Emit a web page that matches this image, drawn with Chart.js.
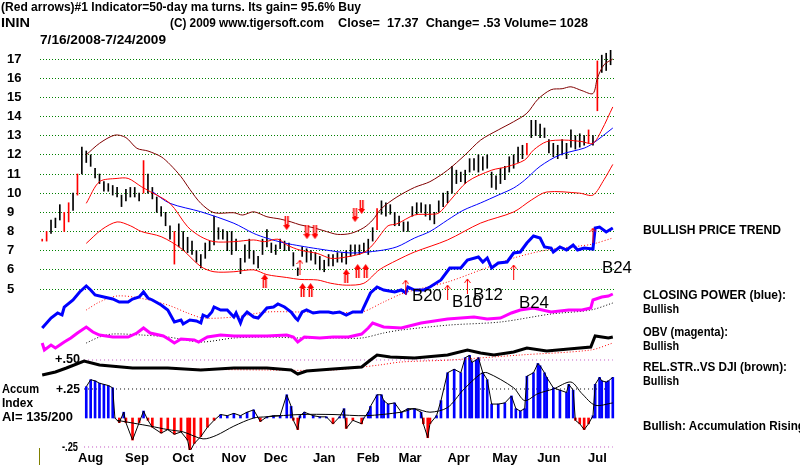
<!DOCTYPE html>
<html><head><meta charset="utf-8">
<script src="https://cdn.jsdelivr.net/npm/chart.js@4/dist/chart.umd.min.js"></script>
<style>
html,body{margin:0;padding:0;background:#fff;}
#wrap{position:relative;width:800px;height:468px;overflow:hidden;background:#fff;}
#c{position:absolute;left:0;top:0;}
.t{position:absolute;white-space:pre;font-family:"Liberation Sans",Arial,sans-serif;font-weight:bold;font-size:12px;line-height:14px;color:#000;transform-origin:0 50%;}
.b{font-weight:normal;font-size:17px;line-height:18px;}
#tick{position:absolute;left:39px;top:448px;width:1px;height:17px;background:#808000;}
</style></head><body>
<div id="wrap">
<canvas id="c" width="800" height="468"></canvas>
<div class="t" style="left:1px;top:0px" data-w="360">(Red arrows)#1 Indicator=50-day ma turns. Its gain= 95.6% Buy</div>
<div class="t" style="left:1px;top:16px" data-w="29">ININ</div>
<div class="t" style="left:170px;top:16px" data-w="154">(C) 2009 www.tigersoft.com</div>
<div class="t" style="left:338px;top:16px" data-w="250">Close=  17.37  Change= .53 Volume= 1028</div>
<div class="t" style="left:40px;top:33px" data-w="126">7/16/2008-7/24/2009</div>
<div class="t" style="left:643px;top:223px" data-w="138">BULLISH PRICE TREND</div>
<div class="t" style="left:643px;top:288px" data-w="143">CLOSING POWER (blue):</div>
<div class="t" style="left:643px;top:302px" data-w="36">Bullish</div>
<div class="t" style="left:643px;top:325px" data-w="85">OBV (magenta):</div>
<div class="t" style="left:643px;top:339px" data-w="36">Bullish</div>
<div class="t" style="left:643px;top:360px" data-w="144">REL.STR..VS DJI (brown):</div>
<div class="t" style="left:643px;top:374px" data-w="36">Bullish</div>
<div class="t" style="left:643px;top:419px" data-w="162">Bullish: Accumulation Rising</div>
<div class="t" style="left:55px;top:352px" data-w="25">+.50</div>
<div class="t" style="left:2px;top:382px" data-w="37">Accum</div>
<div class="t" style="left:56px;top:382px" data-w="24">+.25</div>
<div class="t" style="left:2px;top:396px" data-w="31">Index</div>
<div class="t" style="left:2px;top:410px" data-w="71">AI= 135/200</div>
<div class="t" style="left:62px;top:440px" data-w="16">-.25</div>
<div class="t b" style="left:412px;top:287px" data-w="30">B20</div>
<div class="t b" style="left:452px;top:293px" data-w="30">B10</div>
<div class="t b" style="left:473px;top:286px" data-w="30">B12</div>
<div class="t b" style="left:519px;top:294px" data-w="30">B24</div>
<div class="t b" style="left:602px;top:259px" data-w="30">B24</div>
<div id="tick"></div>
</div>
<script>
// ---------- axis / tick data ----------
const months = ['Aug','Sep','Oct','Nov','Dec','Jan','Feb','Mar','Apr','May','Jun','Jul'];
const monthStartDays = [12,33,54,77,96,118,138,157,179,200,220,242];
const priceTicks = [5,6,7,8,9,10,11,12,13,14,15,16,17];

// ---------- price bars (every 2nd trading day from 7/16/2008) ----------
const barStepDays = 2;
const priceLow = [7.5,7.5,7.9,8.2,8.6,8.0,8.5,9.1,9.9,11.0,11.6,11.4,10.8,10.5,10.1,10.1,9.9,9.8,9.3,9.6,
  9.8,9.8,9.6,10.0,10.0,9.7,9.0,8.8,8.3,7.6,6.3,7.2,7.0,6.9,6.8,6.4,6.1,6.6,7.0,7.3,
  7.6,7.6,7.0,6.8,7.0,5.8,6.4,6.6,6.3,6.1,6.8,7.2,6.9,6.8,7.1,7.0,7.0,6.2,5.7,6.7,
  6.4,6.5,6.3,6.0,5.9,6.2,6.2,6.4,6.4,6.3,6.7,6.8,6.8,6.9,6.8,7.5,8.1,8.9,8.8,8.9,
  8.3,8.3,8.0,8.0,8.8,8.9,9.0,8.8,8.6,8.4,9.0,9.3,9.5,10.0,10.5,10.6,10.5,11.1,11.2,11.1,
  11.2,11.3,10.3,10.2,10.5,10.7,11.1,11.3,11.6,11.8,12.0,12.9,13.0,12.9,12.9,12.1,11.9,11.8,12.0,11.8,
  12.4,12.3,12.4,12.5,12.6,12.5,14.3,16.3,16.4,16.7];
const priceHigh = [7.6,8.0,8.6,8.7,9.4,9.0,9.5,10.0,11.0,12.4,12.2,12.0,11.3,11.0,10.6,10.5,10.4,10.3,9.9,10.2,
  10.3,10.3,10.0,11.7,11.0,10.3,9.8,9.3,9.0,8.3,8.0,8.4,8.0,7.7,7.5,7.0,6.8,7.4,7.5,8.8,
  8.2,8.1,8.0,8.0,7.6,6.6,7.3,7.6,7.0,6.7,7.6,8.1,7.4,7.3,7.6,7.5,7.4,6.9,6.1,7.2,
  7.1,7.0,6.9,6.7,6.5,6.8,6.8,6.9,6.9,7.0,7.3,7.3,7.3,7.4,7.6,8.2,9.2,9.6,9.5,9.4,
  9.0,8.8,8.5,8.5,9.3,9.5,9.5,9.4,9.4,9.0,9.6,10.0,10.1,11.4,11.2,11.1,11.2,11.8,11.8,12.0,
  11.9,12.0,11.1,10.9,11.3,11.4,11.9,12.0,12.4,12.5,12.6,13.8,13.8,13.6,13.4,12.8,12.6,12.5,12.8,12.6,
  13.3,13.0,13.1,13.0,13.3,13.0,16.9,17.2,17.3,17.5];
const redBarDays = [0,2,10,12,16,46,60,152,220,248,252];

// ---------- price bands / moving averages ----------
const upperBandDays = [20,26,33,38,43,48,54,58,63,67,72,78,87,91,96,102,108,113,117,123,129,134,140,146,150,154,161,169,176,184,192,199,207,214,220,225,231,236,240,245,250,252,255,259];
const upperBand = [12.0,12.6,13.03,12.9,12.34,12.2,11.9,11.5,10.86,10.2,9.47,8.98,8.98,8.86,9.03,8.77,8.65,8.5,8.35,8.2,8.0,7.85,7.9,8.2,8.6,9.2,9.8,10.3,10.6,11.2,12.0,12.77,13.3,13.73,14.17,14.9,15.4,15.45,15.55,15.35,15.2,16.0,16.7,17.0];
const ma21Days = [20,26,34,39,45,49,58,66,72,78,87,96,101,107,111,117,125,131,138,146,150,154,157,161,169,176,180,185,193,204,211,219,223,229,237,245,250,254,259];
const ma21 = [9.47,10.6,10.77,10.77,10.34,10.08,9.47,8.25,7.73,7.47,7.47,7.56,7.47,7.6,7.3,7.03,6.85,6.6,6.67,6.9,7.3,7.9,8.3,8.4,8.86,8.9,8.96,9.6,10.6,11.2,11.38,11.73,12.25,12.69,12.77,12.69,12.6,13.3,14.5];
const ma50Days = [50,58,72,87,96,102,110,117,125,140,153,161,169,176,184,191,199,207,214,219,226,235,246,250,259];
const ma50 = [10.08,9.47,9.03,8.43,7.9,7.65,7.4,7.25,7.1,6.88,7.0,7.2,7.66,8.0,8.6,9.1,9.49,9.9,10.27,10.68,11.4,12.0,12.35,12.6,13.4];
const lowerBandDays = [20,27,34,40,45,54,63,72,78,87,96,102,111,117,125,131,138,146,153,161,169,184,199,214,222,229,244,250,255,259];
const lowerBand = [7.38,8.1,8.5,8.3,8.0,7.73,7.12,6.17,5.9,5.9,6.0,5.75,5.6,5.5,5.47,5.3,5.2,5.3,6.0,6.5,6.93,7.56,8.44,9.02,9.64,10.06,10.0,9.9,10.7,11.5];

// ---------- Closing Power ----------
const cpDays = [0,4,7,9,10,14,17,20,22,24,28,32,35,39,41,44,46,48,50,54,57,60,63,64,67,70,72,73,75,77,78,81,84,87,88,90,91,93,96,98,100,102,105,107,110,113,115,116,118,120,123,126,130,132,135,138,141,145,146,149,152,155,160,163,165,166,169,173,176,181,185,190,193,198,200,202,204,207,211,214,217,220,223,226,228,231,232,235,238,241,243,246,250,251,253,256,259];
const cp = [2,12,17,15,23,30,38,44,40,35,33,31,28,28,31,33,38,32,30,25,20,8,10,6,10,9,7,15,13,18,23,20,20,13,17,7,13,18,13,12,17,22,23,26,23,18,12,10,18,20,17,18,18,17,18,15,18,18,23,37,43,40,38,40,37,43,40,40,43,50,62,62,70,73,68,72,62,67,68,77,78,87,94,92,83,82,78,83,80,85,80,82,81,102,103,98,102];
const cpMaDays = [20,26,34,44,57,66,73,87,102,117,132,145,155,163,169,184,199,214,229,244,250,259];
const cpMa = [20,28,34,32,25,17,12,13,18,18,18,18,28,36,40,48,60,72,80,84,86,92];

// ---------- On-Balance Volume ----------
const obvDays = [0,1,4,6,8,10,13,16,20,23,26,32,39,43,46,49,55,58,60,63,69,71,75,81,87,96,102,111,114,116,119,126,132,139,145,148,150,155,163,172,184,196,202,208,213,217,223,231,239,245,249,250,254,257,259];
const obv = [17,10,15,12,15,18,22,27,33,28,25,23,23,27,32,27,24,20,17,21,20,18,23,25,24,24,24,25,23,18,23,22,23,23,26,32,37,33,32,37,41,43,41,42,47,50,52,48,50,50,52,60,63,64,66];
const obvMaDays = [20,26,32,45,57,72,87,102,117,132,145,155,163,185,208,231,249,259];
const obvMa = [17,23,26,25,23,18,22,23,22,22,22,27,30,35,38,46,50,57];

// ---------- Relative strength vs DJI ----------
const rsDays = [0,6,11,19,26,41,57,72,87,102,113,116,120,132,145,149,152,158,169,184,193,199,205,214,220,229,239,249,251,257,259];
const rs = [5,8,12,19,15,12,12,10,12,12,10,6,9,11,13,20,25,23,22,25,30,27,25,28,32,29,31,33,44,42,43];
const rsMaDays = [60,102,132,153,163,185,217,249,259];
const rsMa = [11,10,10,15,18,20,25,30,37];

// ---------- Accumulation Index ----------
const aiDays = [20,22,24,26,28,30,32,33,35,37,38,41,44,46,48,50,54,57,60,63,66,67,69,72,75,78,81,84,87,90,93,96,99,102,105,108,111,113,114,116,117,119,123,126,129,132,135,137,138,141,145,146,148,149,152,154,155,157,160,163,166,169,172,173,175,176,179,181,184,187,190,192,194,195,197,198,200,202,204,207,210,213,215,217,219,220,223,225,226,228,229,232,235,238,239,241,242,244,246,248,250,251,253,254,256,257,259];
const ai = [0.27,0.33,0.32,0.30,0.29,0.28,0.26,0.0,-0.04,0.05,-0.04,-0.19,-0.04,0.06,-0.02,-0.08,-0.13,-0.10,-0.14,-0.12,-0.19,-0.29,-0.22,-0.16,-0.08,-0.02,0.03,0.02,0.04,0.02,0.05,0.07,-0.03,0.01,0.02,0.02,0.20,0.10,-0.02,-0.10,0.02,0.05,0.02,0.01,0.01,-0.05,0.01,0.08,-0.09,-0.02,-0.05,0.0,0.05,0.10,0.20,0.20,0.15,0.12,0.13,0.05,0.08,0.08,0.05,-0.05,-0.17,-0.05,0.02,0.15,0.39,0.42,0.39,0.52,0.54,0.48,0.50,0.52,0.39,0.33,0.12,0.12,0.13,0.19,0.08,0.06,0.08,0.36,0.39,0.47,0.45,0.39,0.35,0.26,0.24,0.22,0.29,0.24,-0.02,-0.05,-0.10,-0.05,0.02,0.29,0.35,0.32,0.31,0.32,0.35];
const aiMaDays = [34,49,57,64,73,79,87,96,102,117,132,147,163,169,176,184,191,199,202,214,219,225,232,240,245,251,259];
const aiMa = [-0.02,-0.07,-0.10,-0.12,-0.18,-0.15,-0.07,0.0,0.01,0.03,0.03,0.02,0.05,0.08,0.05,0.09,0.24,0.38,0.39,0.26,0.15,0.21,0.25,0.31,0.21,0.11,0.13];
const aiRefLevels = [0.5, 0.25, -0.25];
const aiRefStartDays = [19, 19, 19];
const lastDay = 259;

// ---------- signal arrows (day, price level) ----------
const thinUpDays = [117,165,184,193,214,250];
const thinUpLevels = [6.15,5.1,4.84,5.16,5.89,7.82];
const boldUpDays = [101,138];
const boldUpLevels = [5.42,5.68];
const doubleUpDays = [120,145];
const doubleUpLevels = [4.95,5.94];
const boldDownDays = [111,142,145];
const boldDownLevels = [8.44,8.86,9.28];
const doubleDownDays = [122];
const doubleDownLevels = [7.97];

// ---------- helpers ----------
const pts = (days, vals) => days.map((d, k) => ({x: d, y: vals[k]}));
function arrowImage(kind) {
  const c = document.createElement('canvas');
  const g = c.getContext('2d');
  if (kind === 'thin') {
    c.width = 7; c.height = 16;
    g.strokeStyle = '#ff0000'; g.lineWidth = 1;
    g.beginPath(); g.moveTo(3.5, 1); g.lineTo(3.5, 16);
    g.moveTo(0.5, 5); g.lineTo(3.5, 1); g.lineTo(6.5, 5); g.stroke();
    return c;
  }
  const n = kind.indexOf('double') === 0 ? 2 : 1;
  const up = kind.slice(-2) === 'Up';
  c.width = n === 2 ? 15 : 7; c.height = 14;
  if (!up) { g.translate(0, 14); g.scale(1, -1); }
  for (let j = 0; j < n; j++) {
    const ox = j * 8;
    g.fillStyle = '#ff0000';
    g.beginPath();
    g.moveTo(ox + 3.5, 0); g.lineTo(ox + 7, 5); g.lineTo(ox + 5.5, 5); g.lineTo(ox + 5.5, 14);
    g.lineTo(ox + 1.5, 14); g.lineTo(ox + 1.5, 5); g.lineTo(ox, 5); g.closePath(); g.fill();
    g.fillStyle = '#ffffff'; g.fillRect(ox + 3, 6, 1, 8);
  }
  return c;
}
const lineDs = (data, color, width, axis, order, extra) => Object.assign({
  type: 'line', data, borderColor: color, borderWidth: width, pointRadius: 0,
  fill: false, tension: 0, yAxisID: axis, order
}, extra || {});
const arrowDs = (days, levels, img) => ({
  type: 'scatter', data: pts(days, levels), pointStyle: img, pointRadius: 6,
  yAxisID: 'y', order: 0
});

const priceBarData = priceLow.map((l, k) => ({x: k * barStepDays, y: [l, priceHigh[k]]}));
const priceBarColors = priceBarData.map(p => redBarDays.includes(p.x) ? '#ff0000' : '#000000');
const aiColors = ai.map(v => v >= 0 ? '#0000ff' : '#ff0000');

const datasets = [
  {type: 'bar', data: pts(aiDays, ai), backgroundColor: aiColors, barThickness: 2, grouped: false, yAxisID: 'yAI', order: 20},
  lineDs(pts(aiDays, ai), '#000000', 1, 'yAI', 19),
  lineDs(pts(aiMaDays, aiMa), '#000000', 1, 'yAI', 18, {tension: 0.3}),
  lineDs([{x: aiRefStartDays[0], y: aiRefLevels[0]}, {x: lastDay, y: aiRefLevels[0]}], '#c050c0', 1, 'yAI', 21, {borderDash: [1, 3]}),
  lineDs([{x: aiRefStartDays[1], y: aiRefLevels[1]}, {x: lastDay, y: aiRefLevels[1]}], '#000000', 1, 'yAI', 21, {borderDash: [1, 3]}),
  lineDs([{x: aiRefStartDays[2], y: aiRefLevels[2]}, {x: lastDay, y: aiRefLevels[2]}], '#c050c0', 1, 'yAI', 21, {borderDash: [1, 3]}),
  lineDs(pts(rsMaDays, rsMa), '#ff0000', 1, 'yRS', 12, {borderDash: [1, 2], tension: 0.3}),
  lineDs(pts(rsDays, rs), '#000000', 3, 'yRS', 11),
  lineDs(pts(obvMaDays, obvMa), '#000000', 1, 'yOBV', 12, {borderDash: [1, 2], tension: 0.3}),
  lineDs(pts(obvDays, obv), '#ff00ff', 3, 'yOBV', 11),
  lineDs(pts(cpMaDays, cpMa), '#ff0000', 1, 'yCP', 12, {borderDash: [1, 2], tension: 0.3}),
  lineDs(pts(cpDays, cp), '#0000ff', 3, 'yCP', 10),
  {type: 'bar', data: priceBarData, backgroundColor: priceBarColors, barThickness: 1, grouped: false, yAxisID: 'y', order: 5},
  lineDs(pts(upperBandDays, upperBand), '#800000', 1, 'y', 4, {tension: 0.3}),
  lineDs(pts(lowerBandDays, lowerBand), '#ff0000', 1, 'y', 4, {tension: 0.3}),
  lineDs(pts(ma50Days, ma50), '#0000ff', 1, 'y', 4, {tension: 0.3}),
  lineDs(pts(ma21Days, ma21), '#ff0000', 1, 'y', 3, {tension: 0.3}),
  arrowDs(thinUpDays, thinUpLevels, arrowImage('thin')),
  arrowDs(boldUpDays, boldUpLevels, arrowImage('boldUp')),
  arrowDs(doubleUpDays, doubleUpLevels, arrowImage('doubleUp')),
  arrowDs(boldDownDays, boldDownLevels, arrowImage('boldDown')),
  arrowDs(doubleDownDays, doubleDownLevels, arrowImage('doubleDown'))
];

const tickFont = {family: '"Liberation Sans", Arial, sans-serif', weight: 'bold', size: 13};
new Chart(document.getElementById('c').getContext('2d'), {
  data: {datasets},
  options: {
    responsive: false, animation: false, events: [],
    layout: {padding: {left: 7, top: 50, right: 185, bottom: 0}},
    plugins: {legend: {display: false}, tooltip: {enabled: false}},
    scales: {
      x: {
        type: 'linear', min: -1, max: 260, offset: false, position: 'bottom',
        grid: {display: false, offset: false, drawTicks: false}, border: {display: false},
        afterBuildTicks: s => { s.ticks = monthStartDays.map(d => ({value: d + 10})); },
        afterFit: s => { s.height = 18; },
        ticks: {autoSkip: false, maxRotation: 0, minRotation: 0, padding: 1, color: '#000', font: tickFont,
          callback: (v, i) => months[i]}
      },
      y: {
        type: 'linear', position: 'left', min: -3.4, max: 17.47, beginAtZero: false,
        afterBuildTicks: s => { s.ticks = priceTicks.map(v => ({value: v})); },
        afterFit: s => { s.width = 33; },
        grid: {color: '#008000', drawTicks: false, lineWidth: 1},
        border: {display: false, dash: [1, 2]},
        ticks: {crossAlign: 'far', padding: 0, color: '#000', font: tickFont, callback: v => String(v)}
      },
      yCP: {type: 'linear', display: false, min: -120, max: 280},
      yOBV: {type: 'linear', display: false, min: -90, max: 310},
      yRS: {type: 'linear', display: false, min: -70, max: 330},
      yAI: {type: 'linear', display: false, min: -0.2759, max: 3.1724}
    }
  }
});

document.querySelectorAll('.t').forEach(el => {
  const w = +el.dataset.w; if (!w) return;
  const cw = el.getBoundingClientRect().width;
  if (cw > 0) el.style.transform = 'scaleX(' + (w / cw) + ')';
});
</script>
</body></html>
